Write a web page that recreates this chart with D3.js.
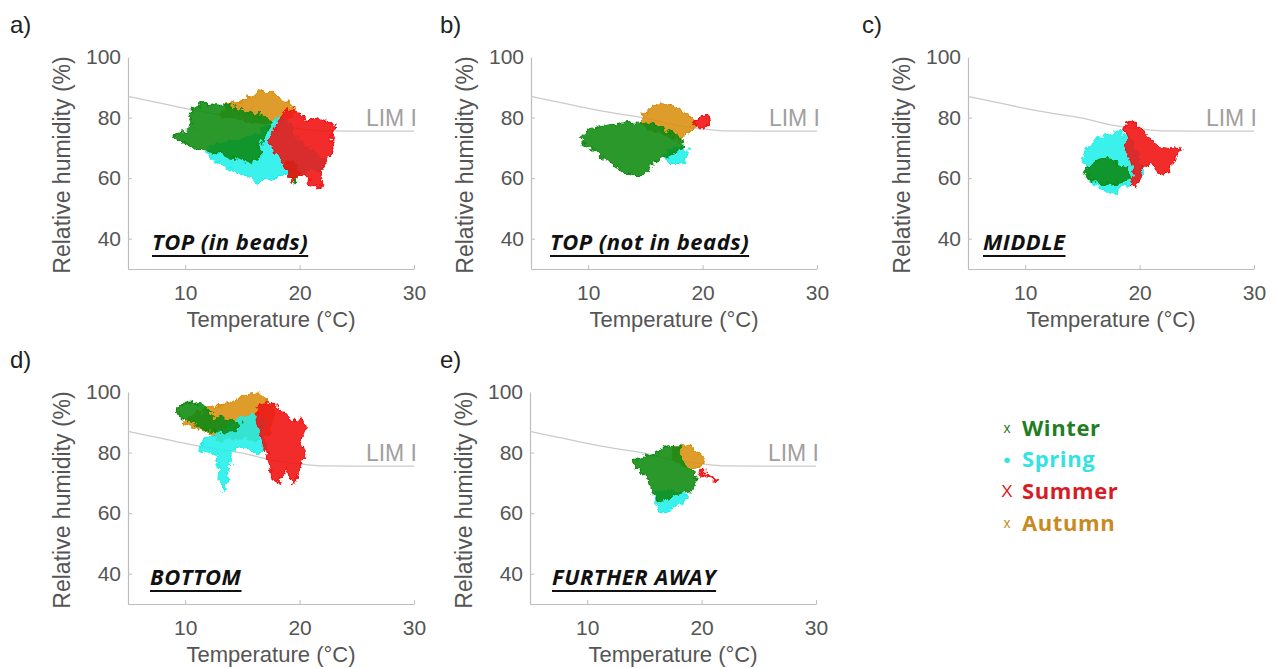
<!DOCTYPE html>
<html>
<head>
<meta charset="UTF-8">
<script src="https://cdn.jsdelivr.net/npm/d3@7"></script>
<style>
  body { margin: 0; background: #fff; }
  text { font-family: "Liberation Sans", Arial, sans-serif; }
</style>
</head>
<body>
<svg id="chart" width="1272" height="668">
  <defs>
    <!-- roughens cloud edges so they read as dense scatter -->
    <filter id="rough" x="-20%" y="-20%" width="140%" height="140%">
      <feTurbulence type="fractalNoise" baseFrequency="0.16" numOctaves="3" seed="7" result="n"/>
      <feDisplacementMap in="SourceGraphic" in2="n" scale="10" xChannelSelector="R" yChannelSelector="G"/>
    </filter>
  </defs>
</svg>
<script>
// axis ticks
const xTicks = [10, 20, 30];
const yTicks = [40, 60, 80, 100];

// LIM I isopleth (temperature, RH)
const limT  = [5, 7.5, 10, 12.5, 15, 17.5, 20, 22, 25, 30];
const limRH = [87, 85, 83, 81.3, 79.8, 77.6, 76.3, 75.6, 75.5, 75.5];

// season clouds, outlines as [T, RH]
// a) TOP (in beads)
const autumnA = [[13.2,80],[13.5,84],[14.2,85.5],[14.8,84.5],[15.3,87],[16,86.2],[16.5,89.5],[17.2,88.5],[17.8,88.2],[18.3,86.5],[19,85],[19.6,83],[19.2,80],[18.5,79],[17.5,78.5],[16.5,78],[15.5,79],[14.5,80]];
const springA = [[11.8,68],[12.5,71],[13.5,72],[15,73],[16.5,75],[17.5,78],[18.2,80.5],[18.8,79],[19.5,75],[20.5,71],[21.5,68],[22.3,65],[22,62.5],[21,63],[20,61],[19,61.5],[18,60],[17,59.5],[16.2,58.5],[15.5,60],[14.5,62],[13.5,64],[12.5,66]];
const winterA = [[9,73.5],[9.3,75],[10.2,75.5],[10.6,78],[10.3,81],[10.8,83],[11.5,84.5],[12.5,84.8],[13.5,84],[14.5,83.5],[15.5,82],[16.5,81],[17.2,79.5],[17.5,77],[17,74],[16.5,70],[16.5,67],[15.8,65],[14.8,66.5],[13.8,67],[12.8,68],[11.8,69],[10.8,70],[10,71.5],[9.3,72.5]];
const winterA2 = [[18.8,66],[19.5,65.5],[20,62],[19.7,58.5],[19.2,60],[18.8,63]];
const summerA = [[17.2,72],[17.8,76],[18.3,80],[18.8,82.5],[19.5,83],[20,81],[20.7,79],[21.5,80],[22.3,79],[23.2,77.5],[22.8,74],[23,70],[22.5,66],[22,63],[21.8,60],[22.2,58],[21.5,56.5],[21,58],[20.5,61],[19.8,60],[19.3,59],[19,62],[18.5,65],[18,68],[17.5,70]];

// b) TOP (not in beads)
const autumnB = [[14.5,78],[14.8,81],[15.5,83],[16.3,85.5],[17,84.5],[17.8,83],[18.5,81.5],[19.2,79.5],[19.5,77.5],[19,76],[18.5,74],[18,72],[17,73.5],[16,75],[15,76.5]];
const springB = [[16.5,68],[17.2,70],[18.2,70.5],[18.8,68.5],[18.6,66],[18,64.5],[17.2,64.5],[16.6,66]];
const winterB = [[9.2,73.5],[10,76],[11.2,77],[12.5,78],[14,78.5],[15.5,78],[16.5,76.5],[17.5,74.5],[18.3,72],[18,69],[17,67],[16,66],[15,62],[14.5,60],[13.8,61],[12.8,63],[12,65],[11,67.5],[10,70.5],[9.4,72]];
const summerB = [[19.2,77.5],[19.6,79.5],[20.1,80.5],[20.6,79.2],[20.3,77.5],[19.8,76.3]];

// c) MIDDLE
const springC = [[15.1,68],[15.5,70.5],[16.3,73],[17.2,74.5],[18.2,75.5],[19,74],[19.5,70],[20,66],[20.5,62],[19.5,58],[18.5,57.5],[18,55],[17,55.5],[16.3,57],[15.6,60],[15.2,64]];
const winterC = [[15.2,62.5],[16,65],[17,66.5],[18,65.5],[19,63],[19.2,60],[18.3,58.5],[17.3,58],[16.3,58.5],[15.5,60]];
const summerC = [[18.6,76],[19,79],[19.6,78],[20.2,76.5],[20.7,74],[21.2,71.5],[22,70.5],[23,70],[23.8,69.3],[23.2,67],[22.8,64],[22.2,61],[21.5,62],[21,65],[20.3,64],[20,60],[19.6,56.5],[19.2,58],[19.5,62],[19.2,66],[18.8,70],[18.9,73]];

// d) BOTTOM
const autumnD = [[9.8,90],[10.5,92],[11.5,94],[12.5,95.5],[13.5,96],[14.5,97.5],[15.3,99],[16,99.5],[16.8,98.5],[17.5,96],[17.8,93],[17.5,88],[17,85],[16.2,84],[15,85],[14,84.5],[13,84],[12.5,86],[11.5,87.5],[10.5,88.5]];
const springD = [[11.2,81],[11.5,84],[12.5,86],[13.5,88],[14.5,91],[15.5,92.5],[16.5,92],[17,89],[16.8,86],[17.2,82],[16.5,79.5],[15.5,81],[14.5,82],[14,79],[13.8,74],[13.7,70],[13.3,67.5],[13,70],[12.9,75],[12.8,79],[12,80]];
const winterD = [[9.3,93],[9.6,96],[10.5,97],[11.2,96],[11.8,95],[12.3,93.5],[12,91.5],[13,91.5],[14,90.5],[14.8,89.5],[14.5,87.5],[13.5,86.5],[12.5,87],[11.5,87.5],[11,89],[10.3,90.5],[9.6,91.5]];
const summerD = [[16.3,95],[17,97],[17.8,95.5],[18.5,94],[19,91.5],[19.6,90.5],[20.2,91],[20.5,88],[20.2,84],[20.5,80],[20.2,76],[19.8,72],[19.6,69.5],[19.2,72],[18.8,75],[18.5,72],[18,69.5],[17.6,72],[17.3,77],[17,81],[16.6,85],[16.3,90]];

// e) FURTHER AWAY
const autumnE = [[17.2,79],[17.6,82],[18.2,82.5],[19,82],[19.8,80],[20.3,78],[20,75.5],[19.3,74.5],[18.5,75.5],[17.8,77]];
const springE = [[15.8,66],[16.3,68],[17.2,67.5],[18,67],[18.7,66],[18.5,63.5],[17.5,62],[17,60],[16.4,60.5],[16,63]];
const winterE = [[13.9,76.5],[14.5,78],[15.5,79],[16.5,81],[17.2,82.5],[18,82],[18.2,79],[18.5,76],[19.3,73.5],[19.6,70],[19,67],[18,66.5],[17,64.5],[16.3,63.5],[15.8,66],[15.5,69],[15.2,72],[14.5,74]];
const summerE = [[19.8,74],[20.5,74.2],[20,73],[20.6,72.2],[21.5,70.5],[20.4,71.6],[19.7,72.6]];

const seasons = ["Winter", "Spring", "Summer", "Autumn"];
const seasonColor = { Winter: "#0e8a12", Spring: "#1fefe8", Summer: "#f01212", Autumn: "#d98e12" };
const legendColor = { Winter: "#1f7d22", Spring: "#33e3e3", Summer: "#d81c26", Autumn: "#c98a22" };
const legendMark = { Winter: "x", Spring: "\u25CF", Summer: "X", Autumn: "x" };

const panels = [
  { key: "a)", title: "TOP (in beads)",     left: 128, keyX: 10,  row: 0, titleDx: 24,
    clouds: [["Autumn", autumnA], ["Spring", springA], ["Winter", winterA], ["Winter", winterA2], ["Summer", summerA]] },
  { key: "b)", title: "TOP (not in beads)", left: 531, keyX: 440, row: 0, titleDx: 19,
    clouds: [["Autumn", autumnB], ["Spring", springB], ["Winter", winterB], ["Summer", summerB]] },
  { key: "c)", title: "MIDDLE",             left: 968, keyX: 862, row: 0, titleDx: 15,
    clouds: [["Spring", springC], ["Winter", winterC], ["Summer", summerC]] },
  { key: "d)", title: "BOTTOM",             left: 128, keyX: 10,  row: 1, titleDx: 22,
    clouds: [["Autumn", autumnD], ["Spring", springD], ["Winter", winterD], ["Summer", summerD]] },
  { key: "e)", title: "FURTHER AWAY",       left: 530, keyX: 440, row: 1, titleDx: 22,
    clouds: [["Autumn", autumnE], ["Spring", springE], ["Winter", winterE], ["Summer", summerE]] }
];

const svg = d3.select("#chart");
const rowTop = [57, 392];   // y of 100 %
const plotW = 286, plotH = 212;
const axisCol = "#bdbdbd", tickText = "#555";

panels.forEach(p => {
  const top = rowTop[p.row];
  const x = d3.scaleLinear().domain([5, 30]).range([p.left, p.left + plotW]);
  const y = d3.scaleLinear().domain([30, 100]).range([top + plotH, top]);
  const g = svg.append("g");

  // axes
  const xAxis = g.append("g").attr("transform", `translate(0,${top + plotH})`)
    .call(d3.axisBottom(x).tickValues(xTicks).tickSizeInner(-4).tickSizeOuter(0).tickPadding(12));
  const yAxis = g.append("g").attr("transform", `translate(${p.left},0)`)
    .call(d3.axisLeft(y).tickValues(yTicks).tickSizeInner(-4).tickSizeOuter(0).tickPadding(7));
  [xAxis, yAxis].forEach(a => {
    a.select(".domain").attr("stroke", axisCol).attr("stroke-width", 1.2);
    a.selectAll(".tick line").attr("stroke", axisCol);
    a.selectAll(".tick text").attr("fill", tickText).style("font-size", "21px")
      .style("font-family", '"Liberation Sans", Arial, sans-serif');
  });
  xAxis.selectAll(".tick text").attr("dy", "0.9em");
  yAxis.select(".tick:last-of-type line").remove();

  // LIM I
  const limPts = limT.map((t, i) => [t, limRH[i]]);
  g.append("path").datum(limPts)
    .attr("d", d3.line().x(d => x(d[0])).y(d => y(d[1])).curve(d3.curveMonotoneX))
    .attr("fill", "none").attr("stroke", "#cbcbcb").attr("stroke-width", 1.3);
  g.append("text").attr("x", x(30) + 3).attr("y", y(80)).attr("dy", "0.35em")
    .attr("text-anchor", "end").attr("fill", "#a0a0a0").style("font-size", "23px").text("LIM I");

  // season clouds
  const cloudLine = d3.line().x(d => x(d[0])).y(d => y(d[1])).curve(d3.curveLinearClosed);
  g.append("g").attr("filter", "url(#rough)")
    .selectAll("path").data(p.clouds).enter().append("path")
    .attr("d", d => cloudLine(d[1]))
    .attr("fill", d => seasonColor[d[0]])
    .attr("fill-opacity", 0.88)
    .attr("stroke", d => seasonColor[d[0]])
    .attr("stroke-width", 1.2)
    .attr("stroke-linejoin", "miter");

  // labels
  g.append("text").attr("x", p.keyX).attr("y", top - 24)
    .attr("fill", "#222").style("font-size", "24px").text(p.key);
  g.append("text").attr("x", x(17.5)).attr("y", top + plotH + 58)
    .attr("text-anchor", "middle").attr("fill", tickText).style("font-size", "22px")
    .text("Temperature (\u00B0C)");
  g.append("text").attr("transform", `translate(${p.left - 58},${(top + top + plotH) / 2 + 2}) rotate(-90)`)
    .attr("text-anchor", "middle").attr("fill", tickText).style("font-size", "23px")
    .text("Relative humidity (%)");

  const t = g.append("text").attr("x", p.left + p.titleDx).attr("y", top + 193)
    .attr("fill", "#111").style("font-size", "22px").style("font-weight", "bold")
    .style("font-style", "italic").style("letter-spacing", "0.5px")
    .style("font-family", '"Open Sans", sans-serif')
    .text(p.title);
  const w = t.node().getComputedTextLength();
  g.append("line").attr("x1", p.left + p.titleDx).attr("x2", p.left + p.titleDx + w)
    .attr("y1", top + 199).attr("y2", top + 199).attr("stroke", "#111").attr("stroke-width", 1.8);
});

// legend
const leg = svg.append("g").attr("transform", "translate(1007,428)");
seasons.forEach((s, i) => {
  const r = leg.append("g").attr("transform", `translate(0,${i * 31.7})`);
  r.append("text").attr("x", 0).attr("dy", "0.35em").attr("text-anchor", "middle")
    .attr("fill", legendColor[s]).style("font-size", s === "Spring" ? "13px" : (s === "Summer" ? "17px" : "14px"))
    .text(legendMark[s]);
  r.append("text").attr("x", 15).attr("dy", "0.35em")
    .attr("fill", legendColor[s]).style("font-size", "22px").style("font-weight", "bold")
    .style("letter-spacing", "0.6px")
    .style("font-family", '"Open Sans", sans-serif').text(s);
});
</script>
</body>
</html>
